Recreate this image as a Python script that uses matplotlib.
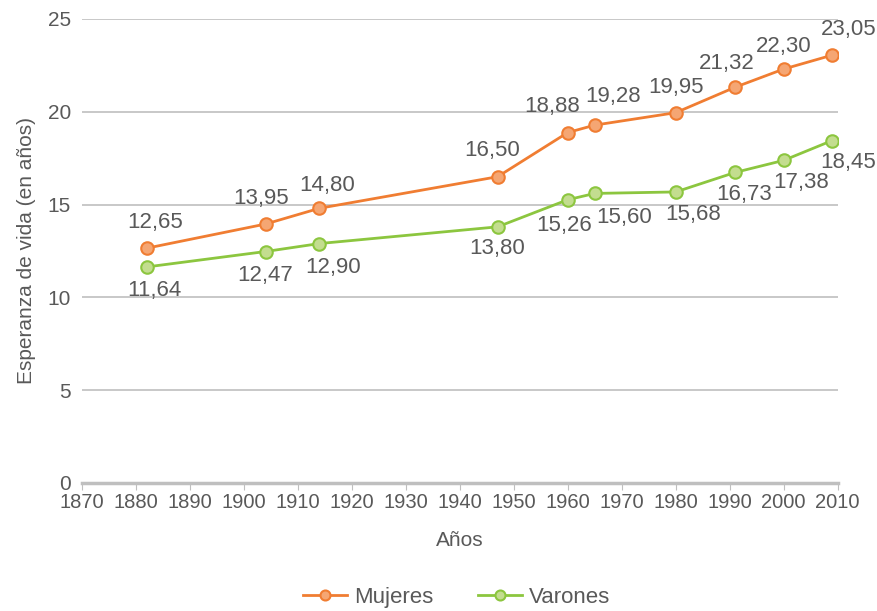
import matplotlib
matplotlib.use("Agg")
import matplotlib.pyplot as plt

years = [1882, 1904, 1914, 1947, 1960, 1965, 1980, 1991, 2000, 2009]
mujeres = [12.65, 13.95, 14.80, 16.50, 18.88, 19.28, 19.95, 21.32, 22.30, 23.05]
varones = [11.64, 12.47, 12.90, 13.80, 15.26, 15.60, 15.68, 16.73, 17.38, 18.45]

# label offsets in pixels (dx, dy) relative to each point
muj_off = [(8, 26), (-4, 26), (8, 23), (-5, 26), (-16, 26), (18, 29), (0, 25), (-8, 24), (0, 23), (16, 26)]
var_off = [(8, -24), (0, -24), (14, -24), (0, -22), (-4, -26), (29, -24), (17, -23), (9, -22), (17, -22), (16, -22)]

text_col = "#595959"
orange, orange_fill = "#F07D32", "#F5A673"
green, green_fill = "#8CC63F", "#C3DD8F"

plt.rcParams['font.family'] = ['Liberation Sans', 'DejaVu Sans']

fig = plt.figure(figsize=(8.78, 6.11), dpi=100)
ax = fig.add_axes([0.0934, 0.2095, 0.954 - 0.0934, 0.969 - 0.2095])

ax.plot(years, mujeres, color=orange, lw=2, marker="o", ms=9,
        mfc=orange_fill, mec=orange, mew=1.5, label="Mujeres", zorder=3)
ax.plot(years, varones, color=green, lw=2, marker="o", ms=9,
        mfc=green_fill, mec=green, mew=1.5, label="Varones", zorder=3)

def fmt(v):
    return f"{v:.2f}".replace(".", ",")

for x, y, off in zip(years, mujeres, muj_off):
    ax.annotate(fmt(y), (x, y), xytext=off, textcoords="offset pixels",
                ha="center", va="center", fontsize=16, color=text_col)
for x, y, off in zip(years, varones, var_off):
    ax.annotate(fmt(y), (x, y), xytext=off, textcoords="offset pixels",
                ha="center", va="center", fontsize=16, color=text_col)

ax.set_xlim(1870, 2010)
ax.set_ylim(0, 25)
ax.set_xticks(range(1870, 2011, 10))
ax.set_yticks(range(0, 26, 5))
ax.grid(axis="y", color="#BFBFBF", lw=1.2)
ax.set_axisbelow(True)
for s in ["top", "right", "left"]:
    ax.spines[s].set_visible(False)
ax.spines["bottom"].set_color("#BFBFBF")
ax.spines["bottom"].set_linewidth(2.5)
ax.tick_params(axis="y", length=0, labelsize=15, colors=text_col, pad=8)
ax.tick_params(axis="x", length=5, color="#BFBFBF", labelsize=14.5,
               colors=text_col, pad=2)

ax.set_xlabel("Años", fontsize=15, color=text_col, labelpad=14)
ax.set_ylabel("Esperanza de vida (en años)", fontsize=15, color=text_col, labelpad=8)

fig.legend(loc="lower center", bbox_to_anchor=(0.52, -0.028), ncol=2,
           frameon=False, fontsize=16, labelcolor=text_col,
           handlelength=2.0, columnspacing=2.0, handletextpad=0.3,
           markerscale=0.8)

fig.savefig("out.png", dpi=100)
